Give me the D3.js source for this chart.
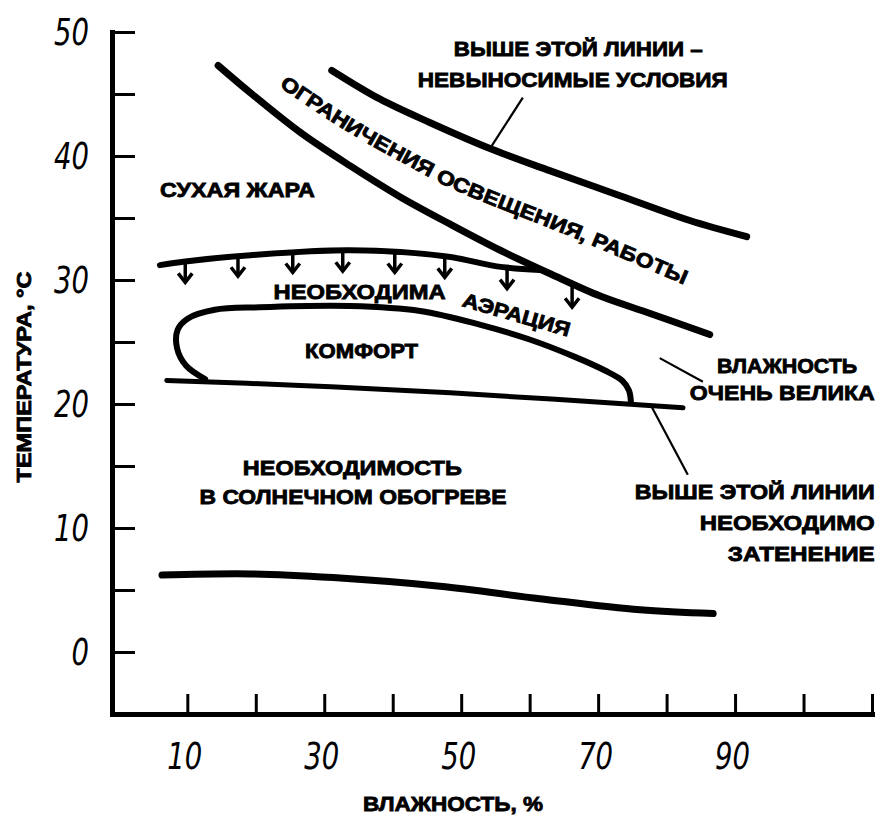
<!DOCTYPE html>
<html>
<head>
<meta charset="utf-8">
<script src="https://cdn.jsdelivr.net/npm/d3@7"></script>
<style>
body { margin: 0; background: #fff; }
svg { display: block; }
.lbl { font-family: "Liberation Sans", Arial, sans-serif; font-weight: bold; font-size: 20px; fill: #000; stroke: #000; stroke-width: 0.8; }
.axis .tick text { font-family: "DejaVu Sans", sans-serif; font-style: italic; font-size: 38px; fill: #000; }
.axis .tick line { stroke: #000; stroke-width: 3; }
.axis .domain { stroke: #000; stroke-width: 5; stroke-linecap: square; }
.curve { fill: none; stroke: #000; stroke-linecap: round; stroke-linejoin: round; }
</style>
</head>
<body>
<svg id="chart" width="880" height="818"></svg>
<script>
// ticks
const yTicks = [0, 5, 10, 15, 20, 25, 30, 35, 40, 45, 50];
const yLabels = [0, 10, 20, 30, 40, 50];
const xTicks = [10, 20, 30, 40, 50, 60, 70, 80, 90, 100, 110];
const xLabels = [10, 30, 50, 70, 90];

// curves: [humidity %, temperature °C]
const unbearable = [[31.1,46.9],[38.1,44.6],[45.4,42.7],[54.2,40.6],[62.5,38.9],[73.2,36.8],[83.4,34.8],[91.7,33.5]];
const workLimit = [[14.5,47.3],[19.2,45.1],[26.5,41.9],[33.8,39.2],[41.1,36.7],[48.4,34.5],[55.7,32.4],[63.0,30.5],[70.3,28.7],[77.6,27.3],[86.3,25.6]];
const aeration = [[6.0,31.2],[9.7,31.5],[19.2,32.0],[33.8,32.4],[47.9,31.9],[55.2,31.1],[61.5,30.8]];
const aerationArrows = [[9.7,31.5],[17.4,32.0],[25.4,32.3],[32.7,32.4],[40.3,32.3],[47.6,31.9],[56.7,31.0],[66.2,29.5]];
const comfort = [[12.6,22.0],[9.8,23.1],[8.5,24.5],[8.6,26.0],[10.1,26.9],[14.0,27.6],[20.6,27.8],[33.8,27.9],[44.0,27.5],[52.7,26.4],[60.0,25.2],[66.6,23.8],[71.0,22.7],[73.5,21.9],[74.5,21.1],[74.8,20.1]];
const shading = [[7.0,21.9],[26.5,21.5],[48.4,20.9],[82.4,19.7]];
const heating = [[6.3,6.2],[19.2,6.3],[31.3,6.0],[46.9,5.3],[61.5,4.3],[76.1,3.4],[86.8,3.1]];
const workLabelPath = [[23.4,45.6],[33.3,42.0],[45.0,38.4],[48.9,37.3],[66.9,33.3],[83.4,29.4]];

// leader lines
const leaders = [
    [[59.0,44.7],[54.2,40.6]],
    [[79.0,23.7],[85.3,21.8]],
    [[77.6,20.0],[83.1,14.3]]
];

// annotations
const notes = [
    {text: "ВЫШЕ ЭТОЙ ЛИНИИ –", x: 67.1, y: 48.1, anchor: "middle", w: 249},
    {text: "НЕВЫНОСИМЫЕ УСЛОВИЯ", x: 66.3, y: 45.6, anchor: "middle", w: 310},
    {text: "СУХАЯ ЖАРА", x: 6.0, y: 36.7, anchor: "start", w: 155},
    {text: "НЕОБХОДИМА", x: 22.6, y: 28.5, anchor: "start", w: 172},
    {text: "КОМФОРТ", x: 27.2, y: 23.7, anchor: "start", w: 113},
    {text: "ВЛАЖНОСТЬ", x: 97.6, y: 22.5, anchor: "middle", w: 140},
    {text: "ОЧЕНЬ ВЕЛИКА", x: 96.9, y: 20.3, anchor: "middle", w: 185},
    {text: "НЕОБХОДИМОСТЬ", x: 34.1, y: 14.3, anchor: "middle", w: 219},
    {text: "В СОЛНЕЧНОМ ОБОГРЕВЕ", x: 34.2, y: 11.9, anchor: "middle", w: 307},
    {text: "ВЫШЕ ЭТОЙ ЛИНИИ", x: 110.4, y: 12.3, anchor: "end", w: 240},
    {text: "НЕОБХОДИМО", x: 110.4, y: 9.8, anchor: "end", w: 175},
    {text: "ЗАТЕНЕНИЕ", x: 110.4, y: 7.3, anchor: "end", w: 147}
];

const svg = d3.select("#chart");

const x = d3.scaleLinear().domain([-1, 110]).range([112, 872]);
const y = d3.scaleLinear().domain([-5, 50]).range([714, 32]);

const line = d3.line()
    .x(d => x(d[0]))
    .y(d => y(d[1]))
    .curve(d3.curveCatmullRom.alpha(0.5));

// axes
svg.append("g")
    .attr("class", "axis")
    .attr("transform", "translate(0," + y(-5) + ")")
    .call(d3.axisBottom(x)
        .tickValues(xTicks)
        .tickSizeInner(-20)
        .tickSizeOuter(0)
        .tickPadding(28)
        .tickFormat(d => xLabels.includes(d) ? d : ""));

svg.append("g")
    .attr("class", "axis")
    .attr("transform", "translate(" + x(-1) + ",0)")
    .call(d3.axisLeft(y)
        .tickValues(yTicks)
        .tickSizeInner(-23)
        .tickSizeOuter(0)
        .tickPadding(20)
        .tickFormat(d => yLabels.includes(d) ? d : ""));

svg.selectAll(".axis").attr("font-family", null).attr("font-size", null);

// narrow italic digits like the original
svg.selectAll(".axis .tick text")
    .filter(function() { return this.textContent.length > 0; })
    .attr("textLength", function() { return this.textContent.length * 17.5; })
    .attr("lengthAdjust", "spacingAndGlyphs")
    .attr("dx", -3);

// axis titles
svg.append("text")
    .attr("class", "lbl")
    .attr("transform", "translate(31,377) rotate(-90)")
    .attr("text-anchor", "middle")
    .attr("font-size", 17)
    .attr("textLength", 211)
    .attr("lengthAdjust", "spacingAndGlyphs")
    .text("ТЕМПЕРАТУРА, °С");

svg.append("text")
    .attr("class", "lbl")
    .attr("x", 453)
    .attr("y", 811)
    .attr("text-anchor", "middle")
    .attr("font-size", 18)
    .attr("textLength", 180)
    .attr("lengthAdjust", "spacingAndGlyphs")
    .text("ВЛАЖНОСТЬ, %");

// curves
const curves = [
    {data: unbearable, w: 7},
    {data: workLimit, w: 7},
    {data: aeration, w: 6},
    {data: comfort, w: 6},
    {data: shading, w: 5},
    {data: heating, w: 7}
];

svg.selectAll("path.curve")
    .data(curves)
    .enter()
    .append("path")
    .attr("class", "curve")
    .attr("d", d => line(d.data))
    .attr("stroke-width", d => d.w);

// arrows under aeration line
const arrow = svg.selectAll("g.arrow")
    .data(aerationArrows)
    .enter()
    .append("g")
    .attr("class", "arrow")
    .attr("transform", d => "translate(" + x(d[0]) + "," + y(d[1]) + ")");

arrow.append("line")
    .attr("x1", 0).attr("y1", 0)
    .attr("x2", 0).attr("y2", 21)
    .attr("stroke", "#000")
    .attr("stroke-width", 3.5);

arrow.append("path")
    .attr("d", "M-7,12L0,21L7,12")
    .attr("fill", "none")
    .attr("stroke", "#000")
    .attr("stroke-width", 3.5)
    .attr("stroke-linejoin", "miter");

// leaders
svg.selectAll("line.leader")
    .data(leaders)
    .enter()
    .append("line")
    .attr("class", "leader")
    .attr("x1", d => x(d[0][0]))
    .attr("y1", d => y(d[0][1]))
    .attr("x2", d => x(d[1][0]))
    .attr("y2", d => y(d[1][1]))
    .attr("stroke", "#000")
    .attr("stroke-width", 2.2);

// labels
svg.selectAll("text.note")
    .data(notes)
    .enter()
    .append("text")
    .attr("class", "lbl note")
    .attr("x", d => x(d.x))
    .attr("y", d => y(d.y))
    .attr("text-anchor", d => d.anchor)
    .attr("textLength", d => d.w)
    .attr("lengthAdjust", "spacingAndGlyphs")
    .text(d => d.text);

// rotated part of "необходима аэрация"
svg.append("text")
    .attr("class", "lbl")
    .attr("transform", "translate(" + x(50.0) + "," + y(27.9) + ") rotate(16)")
    .attr("textLength", 111)
    .attr("lengthAdjust", "spacingAndGlyphs")
    .text("АЭРАЦИЯ");

// curved label along the work limit line
svg.append("path")
    .attr("id", "workLabel")
    .attr("d", line(workLabelPath))
    .attr("fill", "none");

svg.append("text")
    .attr("class", "lbl")
    .append("textPath")
    .attr("href", "#workLabel")
    .attr("textLength", 452)
    .attr("lengthAdjust", "spacingAndGlyphs")
    .text("ОГРАНИЧЕНИЯ ОСВЕЩЕНИЯ, РАБОТЫ");
</script>
</body>
</html>
